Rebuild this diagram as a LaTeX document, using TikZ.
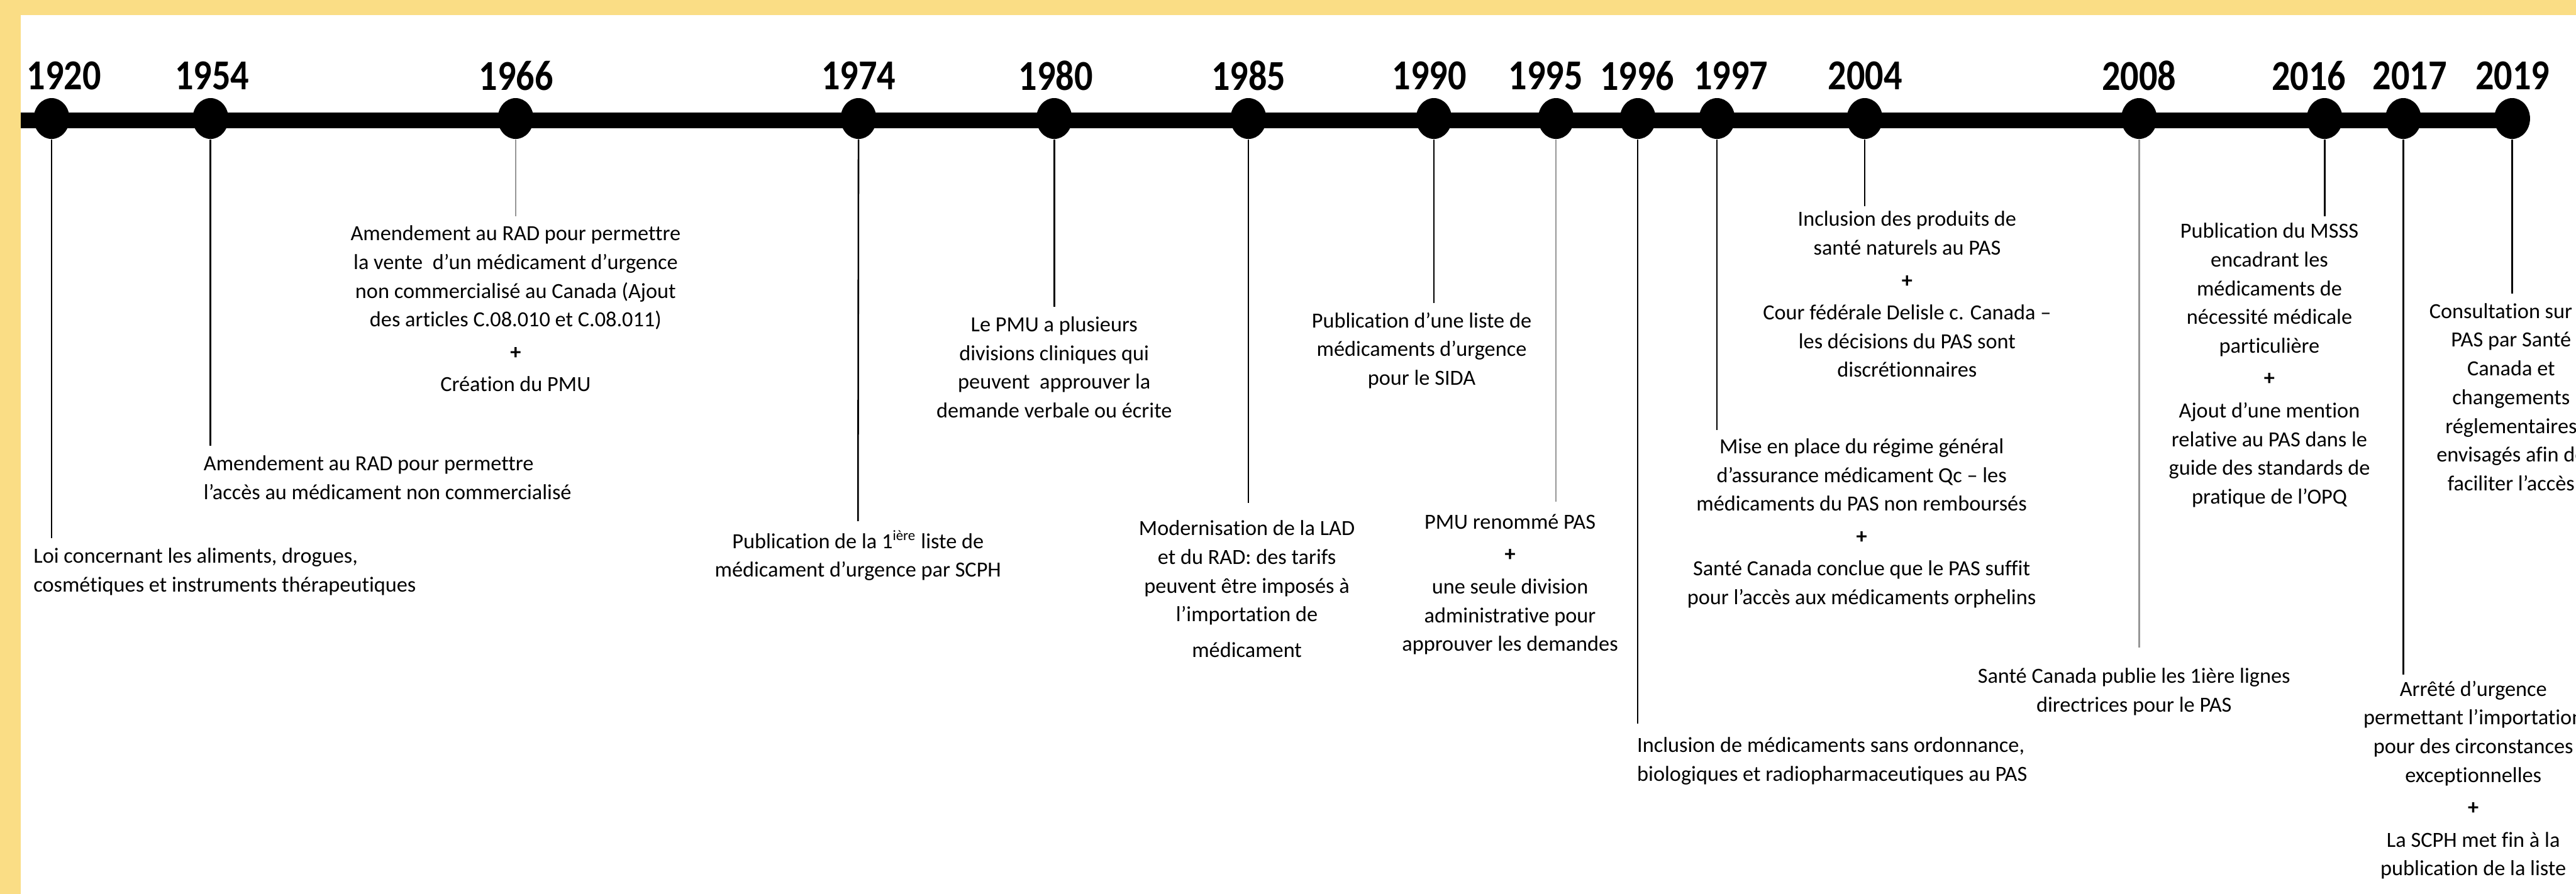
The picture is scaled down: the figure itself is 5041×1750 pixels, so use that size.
\documentclass[tikz,border=0pt]{standalone}
\usepackage{fontspec}
\setmainfont{Carlito}[Ligatures=NoCommon]
\usetikzlibrary{calc,shapes.geometric}

\definecolor{bandyellow}{RGB}{250,221,133}
\definecolor{stemgray}{RGB}{150,150,150}

\newcommand{\plusmark}{\textbf{+}}
\newcommand{\yr}[1]{\scalebox{0.97}[1.13]{#1}}

\tikzset{
  dot/.style={ellipse, fill=black, inner sep=0pt, minimum width=0.7cm, minimum height=0.8cm},
  year/.style={font=\fontsize{21}{23}\selectfont\bfseries, inner sep=0pt},
  event/.style={font=\fontsize{12}{16}\selectfont, align=center, anchor=north, inner sep=0pt},
  eventleft/.style={event, align=left, anchor=north west},
  stem/.style={line width=0.9pt, draw=black, shorten >=0.18cm},
  stemgray/.style={stem, draw=stemgray},
}

\begin{document}
\begin{tikzpicture}[x=0.01cm, y=-0.01cm]
  \useasboundingbox (0,0) rectangle (5041,1750);
  \clip (0,0) rectangle (5041,1750);
  \fill[bandyellow] (0,0) rectangle (5041,30);
  \fill[bandyellow] (0,0) rectangle (40,1750);

  % dots on the line
  \coordinate (start) at (40,236);
  \node[dot] (d1920) at (101,232) {};
  \node[dot] (d1954) at (412,232) {};
  \node[dot] (d1966) at (1009,232) {};
  \node[dot] (d1974) at (1680,232) {};
  \node[dot] (d1980) at (2063,232) {};
  \node[dot] (d1985) at (2443,232) {};
  \node[dot] (d1990) at (2806,232) {};
  \node[dot] (d1995) at (3045,232) {};
  \node[dot] (d1996) at (3205,232) {};
  \node[dot] (d1997) at (3360,232) {};
  \node[dot] (d2004) at (3649,232) {};
  \node[dot] (d2008) at (4186,232) {};
  \node[dot] (d2016) at (4549,232) {};
  \node[dot] (d2017) at (4703,232) {};
  \node[dot] (d2019) at (4916,232) {};
  \draw[line width=0.31cm] (start) -- (start -| d2019);

  % years
  \node[year] (y1920) at ($(d1920)+(24,-84)$) {\yr{1920}};
  \node[year] (y1954) at ($(d1954)+(3,-84)$) {\yr{1954}};
  \node[year] (y1966) at ($(d1966)+(1,-84)$) {\yr{1966}};
  \node[year] (y1974) at ($(d1974)+(0,-84)$) {\yr{1974}};
  \node[year] (y1980) at ($(d1980)+(3,-84)$) {\yr{1980}};
  \node[year] (y1985) at ($(d1985)+(0,-84)$) {\yr{1985}};
  \node[year] (y1990) at ($(d1990)+(-9,-84)$) {\yr{1990}};
  \node[year] (y1995) at ($(d1995)+(-20,-84)$) {\yr{1995}};
  \node[year] (y1996) at ($(d1996)+(-1,-84)$) {\yr{1996}};
  \node[year] (y1997) at ($(d1997)+(27,-84)$) {\yr{1997}};
  \node[year] (y2004) at ($(d2004)+(1,-84)$) {\yr{2004}};
  \node[year] (y2008) at ($(d2008)+(0,-84)$) {\yr{2008}};
  \node[year] (y2016) at ($(d2016)+(-31,-84)$) {\yr{2016}};
  \node[year] (y2017) at ($(d2017)+(13,-84)$) {\yr{2017}};
  \node[year] (y2019) at ($(d2019)+(1,-84)$) {\yr{2019}};

  % events
  \node[eventleft] (t1920) at (65,1072) {Loi concernant les aliments, drogues,\\cosmétiques et instruments thérapeutiques};
  \node[eventleft] (t1954) at (398,891) {Amendement au RAD pour permettre\\l’accès au médicament non commercialisé};
  \node[event] (t1966) at (1009,441) {Amendement au RAD pour permettre\\la vente~ d’un médicament d’urgence\\non commercialisé au Canada (Ajout\\des articles C.08.010 et C.08.011)\\[2pt]\plusmark\\[2pt]Création du PMU};
  \node[event] (t1974) at (1679,1038) {Publication de la 1\textsuperscript{ière} liste de\\médicament d’urgence par SCPH};
  \node[event] (t1980) at (2063,619) {Le PMU a plusieurs\\divisions cliniques qui\\peuvent~ approuver la\\demande verbale ou écrite};
  \node[event] (t1985) at (2440,1018) {Modernisation de la LAD\\et du RAD: des tarifs\\peuvent être imposés à\\l’importation de\\[4pt]médicament};
  \node[event] (t1990) at (2782,611) {Publication d’une liste de\\médicaments d’urgence\\pour le SIDA};
  \node[event] (t1995) at (2955,1006) {PMU renommé PAS\\[2pt]\plusmark\\[2pt]une seule division\\administrative pour\\approuver les demandes};
  \node[eventleft] (t1996) at (3203,1443) {Inclusion de médicaments sans ordonnance,\\biologiques et radiopharmaceutiques au PAS};
  \node[event] (t1997) at (3643,858) {Mise en place du régime général\\d’assurance médicament Qc – les\\médicaments du PAS non remboursés\\[2pt]\plusmark\\[2pt]Santé Canada conclue que le PAS suffit\\pour l’accès aux médicaments orphelins};
  \node[event] (t2004) at (3732,413) {Inclusion des produits de\\santé naturels au PAS\\[2pt]\plusmark\\[2pt]Cour fédérale Delisle c. Canada –\\les décisions du PAS sont\\discrétionnaires};
  \node[event] (t2008) at (4176,1307) {Santé Canada publie les 1ière lignes\\directrices pour le PAS};
  \node[event] (t2016) at (4441,436) {Publication du MSSS\\encadrant les\\médicaments de\\nécessité médicale\\particulière\\[2pt]\plusmark\\[2pt]Ajout d’une mention\\relative au PAS dans le\\guide des standards de\\pratique de l’OPQ};
  \node[event] (t2017) at (4840,1332) {Arrêté d’urgence\\permettant l’importation\\pour des circonstances\\exceptionnelles\\[2pt]\plusmark\\[2pt]La SCPH met fin à la\\publication de la liste};
  \node[event] (t2019) at (4914,593) {Consultation sur le\\PAS par Santé\\Canada et\\changements\\réglementaires\\envisagés afin de\\faciliter l’accès};

  % stems
  \draw[stem] (d1920.south) -- (d1920.south |- t1920.north);
  \draw[stem] (d1954.south) -- (d1954.south |- t1954.north);
  \draw[stemgray] (d1966.south) -- (t1966.north);
  \draw[stem] (d1974.south) -- (t1974.north);
  \draw[stem] (d1980.south) -- (t1980.north);
  \draw[stem, shorten >=0.33cm] (d1985.south) -- (d1985.south |- t1985.north);
  \draw[stem] (d1990.south) -- (d1990.south |- t1990.north);
  \draw[stemgray, shorten >=0.24cm] (d1995.south) -- (d1995.south |- t1995.north);
  \draw[stem, shorten >=0.27cm] (d1996.south) -- (d1996.south |- t1996.north);
  \draw[stem, shorten >=0.16cm] (d1997.south) -- (d1997.south |- t1997.north);
  \draw[stem, shorten >=0.09cm] (d2004.south) -- (d2004.south |- t2004.north);
  \draw[stemgray, shorten >=0.39cm] (d2008.south) -- (d2008.south |- t2008.north);
  \draw[stem, shorten >=0.13cm] (d2016.south) -- (d2016.south |- t2016.north);
  \draw[stem, shorten >=0.12cm] (d2017.south) -- (d2017.south |- t2017.north);
  \draw[stem] (d2019.south) -- (d2019.south |- t2019.north);
\end{tikzpicture}
\end{document}
